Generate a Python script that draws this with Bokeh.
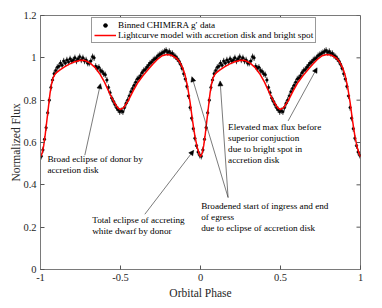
from bokeh.plotting import figure
from bokeh.layouts import row
from bokeh.models import (Range1d, FixedTicker, Legend, LegendItem,
                          Label, Arrow, NormalHead, Spacer)
from bokeh.embed import file_html
from bokeh.resources import INLINE
import math

# ---- data (one orbital cycle; plotted at phase and phase-1) ----
model_phase = [0.000, 0.010, 0.020, 0.030, 0.040, 0.050, 0.060, 0.070, 0.080, 0.090,
               0.100, 0.120, 0.150, 0.180, 0.210, 0.250, 0.280, 0.310, 0.340, 0.370,
               0.400, 0.430, 0.460, 0.485, 0.500, 0.520, 0.550, 0.580, 0.610, 0.640,
               0.670, 0.700, 0.730, 0.760, 0.790, 0.820, 0.850, 0.870, 0.890, 0.905,
               0.920, 0.935, 0.950, 0.965, 0.980, 0.990, 1.000]
model_flux = [0.533, 0.548, 0.585, 0.640, 0.705, 0.770, 0.835, 0.880, 0.908, 0.922,
              0.930, 0.942, 0.957, 0.970, 0.980, 0.989, 0.987, 0.975, 0.955, 0.925,
              0.885, 0.835, 0.790, 0.762, 0.756, 0.765, 0.800, 0.845, 0.885, 0.915,
              0.942, 0.968, 0.992, 1.010, 1.016, 1.012, 0.998, 0.980, 0.950, 0.915,
              0.860, 0.790, 0.705, 0.630, 0.575, 0.550, 0.533]

data_phase = [0.005, 0.015, 0.025, 0.035, 0.045, 0.055, 0.065, 0.075, 0.085, 0.095,
              0.105, 0.115, 0.125, 0.135, 0.145, 0.155, 0.165, 0.175, 0.185, 0.195,
              0.205, 0.215, 0.225, 0.235, 0.245, 0.255, 0.265, 0.275, 0.285, 0.295,
              0.305, 0.315, 0.325, 0.335, 0.345, 0.355, 0.365, 0.375, 0.385, 0.395,
              0.405, 0.415, 0.425, 0.435, 0.445, 0.455, 0.465, 0.475, 0.485, 0.495,
              0.505, 0.515, 0.525, 0.535, 0.545, 0.555, 0.565, 0.575, 0.585, 0.595,
              0.605, 0.615, 0.625, 0.635, 0.645, 0.655, 0.665, 0.675, 0.685, 0.695,
              0.705, 0.715, 0.725, 0.735, 0.745, 0.755, 0.765, 0.775, 0.785, 0.795,
              0.805, 0.815, 0.825, 0.835, 0.845, 0.855, 0.865, 0.875, 0.885, 0.895,
              0.905, 0.915, 0.925, 0.935, 0.945, 0.955, 0.965, 0.975, 0.985, 0.995]
data_flux = [0.535, 0.565, 0.615, 0.670, 0.740, 0.800, 0.860, 0.895, 0.925, 0.940,
             0.955, 0.960, 0.975, 0.965, 0.985, 0.975, 0.990, 0.980, 0.995, 0.985,
             0.990, 1.000, 0.985, 0.995, 1.005, 0.990, 1.000, 0.985, 0.990, 0.975,
             0.975, 0.985, 1.005, 1.000, 0.960, 0.950, 0.955, 0.940, 0.935, 0.925,
             0.920, 0.895, 0.860, 0.835, 0.810, 0.795, 0.780, 0.765, 0.755, 0.745,
             0.750, 0.745, 0.765, 0.785, 0.800, 0.820, 0.840, 0.855, 0.870, 0.885,
             0.900, 0.905, 0.915, 0.930, 0.940, 0.945, 0.955, 0.965, 0.975, 0.980,
             0.990, 0.995, 1.000, 1.010, 1.015, 1.020, 1.025, 1.030, 1.035, 1.025,
             1.030, 1.020, 1.020, 1.010, 1.005, 0.995, 0.985, 0.970, 0.950, 0.925,
             0.900, 0.865, 0.820, 0.765, 0.715, 0.665, 0.620, 0.585, 0.555, 0.540]
flux_err = 0.015

x_ticks = [-1, -0.5, 0, 0.5, 1]
x_tick_labels = ["-1", "-0.5", "0", "0.5", "1"]
y_ticks = [0, 0.2, 0.4, 0.6, 0.8, 1, 1.2]
y_tick_labels = ["0", "0.2", "0.4", "0.6", "0.8", "1", "1.2"]

legend_labels = ["Binned CHIMERA g\u2032 data",
                 "Lightcurve model with accretion disk and bright spot"]

annotations = [
    ("Broad eclipse of donor by\naccretion disk", -0.957, 0.548,
     [(-0.723, 0.540, -0.625, 0.878)]),
    ("Total eclipse of accreting\nwhite dwarf by donor", -0.677, 0.258,
     [(-0.348, 0.261, -0.042, 0.563)]),
    ("Broadened start of ingress and end\nof egress\ndue to eclipse of accretion disk",
     0.004, 0.324,
     [(0.1725, 0.340, -0.054, 0.911), (0.1725, 0.340, 0.1225, 0.891)]),
    ("Elevated max flux before\nsuperior conjuction\ndue to bright spot in\naccretion disk",
     0.1725, 0.699,
     [(0.5475, 0.702, 0.729, 0.953)]),
]

FONT = "Liberation Serif"
FRAME_W, FRAME_H = 320, 254
TICK_PX = 4

p = figure(frame_width=FRAME_W, frame_height=FRAME_H,
           x_range=Range1d(-1, 1), y_range=Range1d(0, 1.2),
           output_backend="svg", toolbar_location=None,
           min_border_left=0, min_border_right=10,
           min_border_top=15, min_border_bottom=30)
p.grid.visible = False
p.outline_line_color = "#7a7a7a"
p.outline_line_width = 1
p.background_fill_color = "white"
p.border_fill_color = "white"

# data: both cycles
xd = [ph - 1 for ph in data_phase] + list(data_phase)
yd = list(data_flux) + list(data_flux)
xm = [ph - 1 for ph in model_phase] + list(model_phase)
ym = list(model_flux) + list(model_flux)

err_px = flux_err / 1.2 * FRAME_H * 2
ebar = p.scatter(xd, yd, marker="dash", angle=math.pi / 2, size=err_px,
                 line_color="black", line_width=0.7)
dots = p.scatter(xd, yd, marker="circle", size=2.6, fill_color="black",
                 line_color="black", line_width=0.5)
mline = p.line(xm, ym, line_color="red", line_width=1.5)

# inward ticks on top and right edges (box on)
ty = TICK_PX / FRAME_H * 1.2
tx = TICK_PX / FRAME_W * 2.0
p.segment(x0=x_ticks, y0=[1.2] * len(x_ticks), x1=x_ticks, y1=[1.2 - ty] * len(x_ticks),
          line_color="#555555", line_width=1)
p.segment(x0=[1.0] * len(y_ticks), y0=y_ticks, x1=[1.0 - tx] * len(y_ticks), y1=y_ticks,
          line_color="#555555", line_width=1)

def style_axis(ax, ticks, labels):
    ax.ticker = FixedTicker(ticks=ticks)
    ax.major_label_overrides = {t: l for t, l in zip(ticks, labels)}
    ax.minor_tick_line_color = None
    ax.major_tick_in = TICK_PX
    ax.major_tick_out = 0
    ax.axis_line_color = "#7a7a7a"
    ax.major_tick_line_color = "#555555"
    ax.major_label_text_font = FONT
    ax.major_label_text_font_size = "10.5px"
    ax.major_label_text_color = "#262626"
    ax.major_label_standoff = 4
    ax.axis_label_text_font = FONT
    ax.axis_label_text_font_style = "normal"
    ax.axis_label_text_font_size = "11.5px"
    ax.axis_label_text_color = "#262626"

style_axis(p.xaxis[0], x_ticks, x_tick_labels)
style_axis(p.yaxis[0], y_ticks, y_tick_labels)
p.xaxis[0].axis_label = "Orbital Phase"
p.yaxis[0].axis_label = "Normalized Flux"
p.xaxis[0].axis_label_standoff = 3
p.yaxis[0].axis_label_standoff = -2

# legend
legend = Legend(items=[LegendItem(label=legend_labels[0], renderers=[ebar, dots]),
                       LegendItem(label=legend_labels[1], renderers=[mline])],
                location=(51, 226))
legend.label_text_font = FONT
legend.label_text_font_size = "9.2px"
legend.label_text_color = "black"
legend.padding = 2
legend.margin = 0
legend.spacing = 0
legend.glyph_width = 22
legend.glyph_height = 10
legend.label_height = 10
legend.label_standoff = 2
legend.border_line_color = "#333333"
legend.border_line_width = 0.8
legend.background_fill_color = "white"
legend.background_fill_alpha = 1
p.add_layout(legend, "center")

# annotations
for text, ax_, ay_, arrows in annotations:
    p.add_layout(Label(x=ax_, y=ay_, text=text, text_font=FONT,
                       text_font_size="9.2px", text_color="black",
                       text_baseline="top", text_align="left",
                       text_line_height=1.1))
    for (xs, ys, xe, ye) in arrows:
        p.add_layout(Arrow(x_start=xs, y_start=ys, x_end=xe, y_end=ye,
                           line_color="#222222", line_width=0.6,
                           end=NormalHead(size=5, fill_color="black",
                                          line_color="black", line_width=0.5)))

layout = row(Spacer(width=7, height=10), p)
open("out.html", "w").write(file_html(layout, INLINE))
